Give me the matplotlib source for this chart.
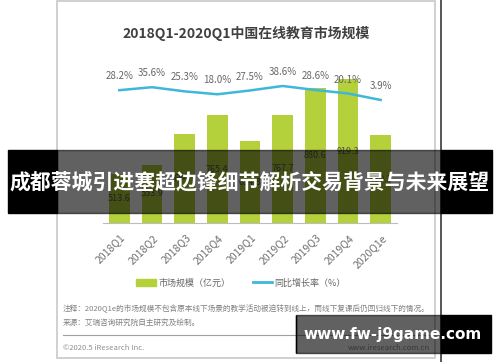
import matplotlib
matplotlib.use("Agg")
import matplotlib.pyplot as plt
from matplotlib.patches import Rectangle, Patch
from matplotlib.lines import Line2D
from matplotlib.transforms import ScaledTranslation

plt.rcParams["font.family"] = ["Noto Sans CJK SC", "DejaVu Sans"]

# ── data ───────────────────────────────────────────
quarters = ["2018Q1", "2018Q2", "2018Q3", "2018Q4", "2019Q1",
            "2019Q2", "2019Q3", "2019Q4", "2020Q1e"]
market = [513.6, 553.9, 684.7, 765.4, 654.8, 767.7, 880.6, 919.3, 680.3]
growth = [28.2, 35.6, 25.3, 18.0, 27.5, 38.6, 28.6, 20.1, 3.9]

GREEN = "#b4d03a"
CYAN = "#3fb7d9"
W, H = 500, 362


def fx(px):
    return px / W


def fy(py):
    return 1 - py / H


fig = plt.figure(figsize=(5, 3.62), dpi=100)

# card frame + dark separator line on the right
fig.patches.append(Rectangle((fx(57), fy(358)), fx(435) - fx(57), fy(1) - fy(358),
                             transform=fig.transFigure, fill=False,
                             edgecolor="#c8c8c8", lw=1.2, zorder=0))
fig.add_artist(Line2D([fx(441), fx(441)], [0, 1], color="#3a3a3a", lw=1.2))

fig.text(fx(246), fy(33), "2018Q1-2020Q1中国在线教育市场规模", ha="center", va="center",
         fontsize=10, fontweight="bold", color="#404040")

# ── bars ───────────────────────────────────────────
ax = fig.add_axes([fx(103), fy(223), fx(397) - fx(103), fy(60) - fy(223)])
x = list(range(len(quarters)))
ymin = 305
ax.bar(x, market, width=0.64, color=GREEN, zorder=2)
for i, v in enumerate(market):
    ax.text(i, (v + ymin) / 2, f"{v:.1f}", ha="center", va="center",
            fontsize=6.5, color="#555555", zorder=3)
ax.set_xlim(-0.5, len(quarters) - 0.5)
ax.set_ylim(ymin, 1002)
ax.set_yticks([])
ax.set_xticks(x)
ax.set_xticklabels(quarters, rotation=45, ha="right", va="center",
                   rotation_mode="anchor", fontsize=7.5, color="#707070")
ax.tick_params(axis="x", length=0, pad=0)
off = ScaledTranslation(4 / 100, -13 / 100, fig.dpi_scale_trans)
for lab in ax.get_xticklabels():
    lab.set_transform(lab.get_transform() + off)
for s in ["top", "right", "left"]:
    ax.spines[s].set_visible(False)
ax.spines["bottom"].set_color("#bdbdbd")
ax.patch.set_alpha(0)

# ── growth line ────────────────────────────────────
ax2 = ax.twinx()
ax2.plot(x, growth, color=CYAN, lw=1.8, zorder=4)
for i, g in enumerate(growth):
    ax2.annotate(f"{g:.1f}%", (i, g), xytext=(0, 10), textcoords="offset points",
                 ha="center", va="center", fontsize=7, color="#666666")
ax2.set_ylim(-301, 103)
ax2.set_yticks([])
for s in ax2.spines.values():
    s.set_visible(False)

# ── legend ─────────────────────────────────────────
handles = [Patch(color=GREEN, label="市场规模（亿元）"),
           Line2D([], [], color=CYAN, lw=2, label="同比增长率（%）")]
fig.legend(handles=handles, loc="center", bbox_to_anchor=(fx(241), fy(283)), ncol=2,
           frameon=False, fontsize=6.5, handlelength=2.2, handletextpad=0.2,
           columnspacing=2.5, labelcolor="#666666")

# ── notes ──────────────────────────────────────────
fig.text(fx(63), fy(309), "注释：2020Q1e的市场规模不包含原本线下场景的教学活动被迫转到线上，而线下复课后仍回归线下的情况。",
         fontsize=5.5, color="#808080", va="center")
fig.text(fx(63), fy(323), "来源：艾瑞咨询研究院自主研究及绘制。", fontsize=5.5, color="#808080", va="center")
fig.add_artist(Line2D([fx(63), fx(432)], [fy(335), fy(335)], color="#a0a0a0", lw=0.8))
fig.text(fx(63), fy(348), "©2020.5 iResearch Inc.", fontsize=5.5, color="#909090", va="center")
fig.text(fx(430), fy(348), "www.iresearch.com.cn", fontsize=5.5, color="#909090", va="center", ha="right")

# ── overlays: banner + watermark ───────────────────
for (x0, x1, y0, y1) in [(8, 492, 150, 213), (296, 491, 315, 353)]:
    fig.patches.append(Rectangle((fx(x0), fy(y1)), fx(57 if x0 < 57 else x0) - fx(x0), fy(y0) - fy(y1),
                                 transform=fig.transFigure, color="black", zorder=10))
    fig.patches.append(Rectangle((fx(max(x0, 57)), fy(y1)), fx(441) - fx(max(x0, 57)), fy(y0) - fy(y1),
                                 transform=fig.transFigure, color="black", alpha=0.62, zorder=10))
    fig.patches.append(Rectangle((fx(441), fy(y1)), fx(x1) - fx(441), fy(y0) - fy(y1),
                                 transform=fig.transFigure, color="black", zorder=10))

fig.text(fx(250), fy(182), "成都蓉城引进塞超边锋细节解析交易背景与未来展望", ha="center", va="center",
         fontsize=15, fontweight="bold", color="white", zorder=11)
fig.text(fx(393), fy(335), "www.fw-j9game.com", ha="center", va="center",
         fontsize=11, fontweight="bold", color="white", family="DejaVu Sans", zorder=11)

fig.savefig("out.png", dpi=100)
